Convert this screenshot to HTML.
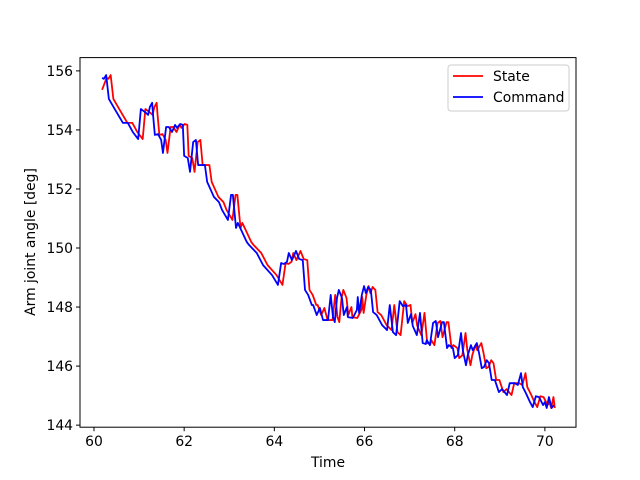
<!DOCTYPE html>
<html><head><meta charset="utf-8"><style>body{margin:0;background:#fff}svg{display:block;font-family:"DejaVu Sans","Liberation Sans",sans-serif}</style></head>
<body>
<svg id="chart" width="640" height="480" xmlns="http://www.w3.org/2000/svg">
<rect width="640" height="480" fill="#fff"/>
<g id="plot"></g>
<rect x="80" y="57.6" width="496" height="369.6" fill="none" stroke="#000" stroke-width="1"/>
<g id="xticks"></g><g id="yticks"></g>
<text x="328" y="467" font-size="13.9" text-anchor="middle">Time</text>
<text transform="translate(35,242) rotate(-90)" font-size="13.9" text-anchor="middle">Arm joint angle [deg]</text>
<g>
<rect x="448" y="65" width="121" height="46" rx="3" fill="#fff" stroke="#ccc" stroke-width="1"/>
<line x1="453" y1="76" x2="483" y2="76" stroke="red" stroke-width="1.8"/>
<text x="493" y="81" font-size="13.9">State</text>
<line x1="453" y1="97" x2="483" y2="97" stroke="blue" stroke-width="1.8"/>
<text x="493" y="102" font-size="13.9">Command</text>
</g>
</svg>
<script>
const xTicks=[60,62,64,66,68,70];
const yTicks=[144,146,148,150,152,154,156];
const commandTime=[60.18,60.22,60.27,60.33,60.47,60.64,60.75,60.86,60.98,61.04,61.15,61.20,61.24,61.29,61.31,61.35,61.42,61.49,61.53,61.60,61.66,61.73,61.80,61.84,61.91,61.97,62.00,62.08,62.13,62.20,62.26,62.31,62.46,62.51,62.66,62.77,62.84,62.97,63.04,63.08,63.15,63.19,63.39,63.44,63.61,63.75,63.95,64.08,64.15,64.21,64.28,64.32,64.39,64.48,64.55,64.63,64.68,64.75,64.83,64.86,64.94,65.01,65.08,65.19,65.25,65.30,65.34,65.39,65.43,65.50,65.54,65.61,65.63,65.74,65.83,65.85,65.88,65.94,65.99,66.03,66.08,66.14,66.19,66.27,66.39,66.50,66.56,66.63,66.70,66.78,66.85,66.92,66.96,67.03,67.07,67.16,67.23,67.29,67.36,67.38,67.45,67.52,67.58,67.63,67.72,67.76,67.83,67.87,67.96,68.00,68.07,68.14,68.18,68.25,68.29,68.36,68.40,68.49,68.54,68.60,68.65,68.71,68.76,68.82,68.89,68.98,69.05,69.16,69.22,69.33,69.40,69.47,69.51,69.58,69.67,69.73,69.80,69.87,69.96,70.00,70.04,70.09,70.15,70.20];
const commandValue=[155.76,155.73,155.86,155.05,154.68,154.24,154.24,153.93,153.69,154.71,154.58,154.51,154.78,154.92,154.51,153.83,153.86,153.66,153.22,154.10,154.10,153.93,154.17,154.07,154.20,154.17,153.12,153.05,152.58,153.59,153.66,152.81,152.81,152.24,151.73,151.56,151.29,150.95,151.80,151.80,150.68,150.85,150.20,150.10,149.83,149.42,149.08,148.75,149.49,149.46,149.53,149.83,149.59,149.90,149.63,149.59,148.58,148.41,148.07,148.07,147.73,147.97,147.56,147.56,148.41,147.66,147.49,148.31,148.58,148.31,147.73,148.00,147.66,147.63,147.90,148.34,147.80,148.41,148.71,148.47,148.68,148.58,147.83,147.73,147.39,147.22,148.07,147.15,147.05,148.20,148.03,148.07,147.46,147.76,147.36,147.05,147.80,146.78,146.75,146.88,146.71,147.46,147.53,146.98,147.49,147.49,146.61,146.71,146.61,146.27,146.37,147.12,146.54,146.03,146.37,146.71,146.54,146.78,146.44,145.93,145.97,146.20,146.10,145.53,145.53,145.12,145.22,145.02,145.42,145.42,145.36,145.76,145.29,145.08,144.78,144.61,144.98,144.95,144.68,144.78,144.58,144.95,144.58,144.68];
const stateTime=[60.18,60.28,60.32,60.37,60.43,60.57,60.74,60.85,60.96,61.08,61.14,61.25,61.30,61.34,61.39,61.41,61.45,61.52,61.59,61.63,61.70,61.76,61.83,61.90,61.94,62.01,62.07,62.10,62.18,62.23,62.30,62.36,62.41,62.56,62.61,62.76,62.87,62.94,63.07,63.14,63.18,63.25,63.29,63.49,63.54,63.71,63.85,64.05,64.18,64.25,64.31,64.38,64.42,64.49,64.58,64.65,64.73,64.78,64.85,64.93,64.96,65.04,65.11,65.18,65.29,65.35,65.40,65.44,65.49,65.53,65.60,65.64,65.71,65.73,65.84,65.93,65.95,65.98,66.04,66.09,66.13,66.18,66.24,66.29,66.37,66.49,66.60,66.66,66.73,66.80,66.88,66.95,67.02,67.06,67.13,67.17,67.26,67.33,67.39,67.46,67.48,67.55,67.62,67.68,67.73,67.82,67.86,67.93,67.97,68.06,68.10,68.17,68.24,68.28,68.35,68.39,68.46,68.50,68.59,68.64,68.70,68.75,68.81,68.86,68.92,68.99,69.08,69.15,69.26,69.32,69.43,69.50,69.57,69.61,69.68,69.77,69.83,69.90,69.97,70.06,70.10,70.14,70.19,70.22];
const stateValue=[155.36,155.76,155.73,155.86,155.05,154.68,154.24,154.24,153.93,153.69,154.71,154.58,154.51,154.78,154.92,154.51,153.83,153.86,153.66,153.22,154.10,154.10,153.93,154.17,154.07,154.20,154.17,153.12,153.05,152.58,153.59,153.66,152.81,152.81,152.24,151.73,151.56,151.29,150.95,151.80,151.80,150.68,150.85,150.20,150.10,149.83,149.42,149.08,148.75,149.49,149.46,149.53,149.83,149.59,149.90,149.63,149.59,148.58,148.41,148.07,148.07,147.73,147.97,147.56,147.56,148.41,147.66,147.49,148.31,148.58,148.31,147.73,148.00,147.66,147.63,147.90,148.34,147.80,148.41,148.71,148.47,148.68,148.58,147.83,147.73,147.39,147.22,148.07,147.15,147.05,148.20,148.03,148.07,147.46,147.76,147.36,147.05,147.80,146.78,146.75,146.88,146.71,147.46,147.53,146.98,147.49,147.49,146.61,146.71,146.61,146.27,146.37,147.12,146.54,146.03,146.37,146.71,146.54,146.78,146.44,145.93,145.97,146.20,146.10,145.53,145.53,145.12,145.22,145.02,145.42,145.42,145.36,145.76,145.29,145.08,144.78,144.61,144.98,144.95,144.68,144.78,144.58,144.95,144.58,144.68];
const X0=80,X1=576,Y0=427.2,Y1=57.6,xMin=59.69,xMax=70.69,yMin=143.93,yMax=156.45;
const sx=t=>X0+(t-xMin)/(xMax-xMin)*(X1-X0);
const sy=v=>Y0-(v-yMin)/(yMax-yMin)*(Y0-Y1);
const NS='http://www.w3.org/2000/svg';
function mk(tag,attrs,parent){const e=document.createElementNS(NS,tag);for(const k in attrs)e.setAttribute(k,attrs[k]);parent.appendChild(e);return e;}
const plot=document.getElementById('plot');
function line(ts,vs,color,name){
  const d=ts.map((t,i)=>(i?'L':'M')+sx(t).toFixed(2)+','+sy(vs[i]).toFixed(2)).join(' ');
  const p=mk('path',{d:d,fill:'none',stroke:color,'stroke-width':1.8,'stroke-linejoin':'round'},plot);
  
  
}
line(stateTime,stateValue,'red','state-line');
line(commandTime,commandValue,'blue','command-line');
const xg=document.getElementById('xticks');
xTicks.forEach(t=>{const x=sx(t);
  const l=mk('line',{x1:x,x2:x,y1:Y0,y2:Y0+4,stroke:'#000','stroke-width':1},xg);
  
  
  const tx=mk('text',{x:x,y:Y0+19,'font-size':13.9,'text-anchor':'middle'},xg);tx.textContent=t;
  
  
});
const yg=document.getElementById('yticks');
yTicks.forEach(v=>{const y=sy(v);
  const l=mk('line',{x1:X0-4,x2:X0,y1:y,y2:y,stroke:'#000','stroke-width':1},yg);
  
  
  const tx=mk('text',{x:X0-7,y:y+5,'font-size':13.9,'text-anchor':'end'},yg);tx.textContent=v;
  
  
});
</script>
</body></html>
